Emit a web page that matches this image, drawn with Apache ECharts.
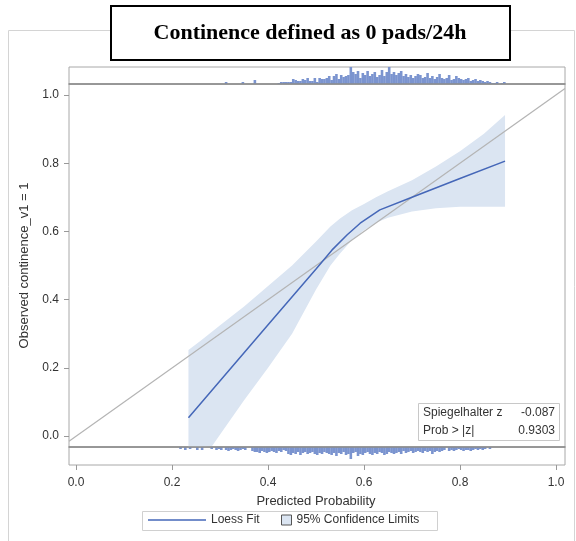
<!DOCTYPE html>
<html>
<head>
<meta charset="utf-8">
<script src="https://cdn.jsdelivr.net/npm/echarts@6/dist/echarts.min.js"></script>
<style>
  html, body { margin: 0; padding: 0; background: #fff; }
  #main { width: 576px; height: 541px; }
</style>
</head>
<body>
<div id="main"></div>
<script>
// 校准曲线 calibration plot
var myChart = echarts.init(document.getElementById('main'));

// loess fit
var loessX = [0.234, 0.3, 0.4, 0.5, 0.533, 0.565, 0.592, 0.633, 0.7, 0.8, 0.894];
var loessY = [0.054, 0.162, 0.326, 0.49, 0.545, 0.59, 0.624, 0.663, 0.7, 0.755, 0.806];

// 95% confidence band
var bandX = [0.234, 0.26, 0.283, 0.3, 0.35, 0.4, 0.45, 0.5, 0.53, 0.55, 0.575, 0.6, 0.625, 0.65, 0.7, 0.75, 0.8, 0.85, 0.894];
var bandLower = [-0.13, -0.08, -0.03, 0.005, 0.105, 0.2, 0.3, 0.43, 0.5, 0.535, 0.575, 0.603, 0.625, 0.64, 0.658, 0.668, 0.672, 0.672, 0.672];
var bandUpper = [0.252, 0.28, 0.306, 0.325, 0.38, 0.44, 0.5, 0.57, 0.614, 0.638, 0.662, 0.68, 0.7, 0.718, 0.75, 0.79, 0.835, 0.886, 0.941];

// reference diagonal (perfect calibration)
var diagX = [-0.015, 1.019];

// histogram of predicted probabilities, outcome = 1 (top) and outcome = 0 (bottom)
var binWidth = 0.005;
var topStart = 0.30;
var topCounts = [
    0, 0, 2, 0, 0, 0, 0, 0, 0, 2,
    0, 0, 0, 0, 4, 0, 0, 0, 0, 0,
    0, 0, 0, 0, 1, 2, 2, 2, 2, 2,
    5, 4, 3, 3, 5, 4, 6, 3, 3, 6,
    2, 6, 5, 5, 6, 8, 4, 8, 10, 5,
    9, 7, 8, 9, 17, 12, 10, 13, 6, 11,
    9, 13, 8, 10, 12, 7, 9, 14, 8, 12,
    17, 10, 12, 9, 11, 13, 8, 10, 7, 9,
    6, 8, 10, 9, 6, 7, 11, 6, 8, 5,
    7, 10, 6, 5, 6, 9, 4, 5, 8, 6,
    5, 4, 5, 6, 3, 4, 5, 3, 4, 3,
    2, 3, 2, 1, 1, 2, 0, 1, 2, 0
];
var bottomStart = 0.215;
var bottomCounts = [
    2, 0, 3, 0, 2, 0, 0, 3, 0, 3,
    0, 0, 0, 2, 0, 3, 2, 3, 0, 3,
    4, 3, 2, 3, 4, 3, 2, 3, 0, 0,
    4, 5, 5, 6, 4, 5, 6, 5, 4, 5,
    6, 4, 5, 3, 4, 7, 8, 6, 7, 5,
    8, 6, 5, 7, 6, 5, 7, 8, 6, 7,
    5, 6, 7, 8, 6, 9, 6, 7, 5, 8,
    7, 12, 6, 5, 9, 7, 8, 6, 5, 7,
    8, 6, 7, 5, 6, 8, 7, 5, 6, 7,
    6, 5, 7, 4, 6, 5, 4, 6, 5, 4,
    5, 6, 4, 5, 4, 7, 5, 4, 5, 4,
    3, 0, 4, 3, 4, 3, 2, 3, 4, 3,
    3, 4, 3, 2, 3, 2, 3, 2, 0, 2
];

var tickLabels = ['0.0', '0.2', '0.4', '0.6', '0.8', '1.0'];

var statNames = ['Spiegelhalter z', 'Prob > |z|'];
var statValues = ['-0.087', '0.9303'];

function pairs(xs, ys) {
    return xs.map(function (x, i) { return [x, ys[i]]; });
}
function histData(start, counts) {
    return counts.map(function (c, i) { return [start + binWidth * (i + 0.5), c]; });
}

var FONT = '"Liberation Sans", Arial, sans-serif';
var lineColor = '#4567b8';
var bandColor = '#dbe5f2';
var barColor = '#7b94cf';
var frameColor = '#a8a8a8';

var XMIN = -0.015, XMAX = 1.019;

// 置信带多边形 (上界正向 + 下界反向)
function renderBand(params, api) {
    if (params.dataIndex !== 0) return;
    var cs = params.coordSys;
    var bottom = cs.y + cs.height;
    var pts = [];
    for (var i = 0; i < bandX.length; i++) {
        pts.push(api.coord([bandX[i], bandUpper[i]]));
    }
    for (var j = bandX.length - 1; j >= 0; j--) {
        var p = api.coord([bandX[j], bandLower[j]]);
        p[1] = Math.min(p[1], bottom);
        pts.push(p);
    }
    return {
        type: 'polygon',
        shape: { points: pts },
        style: { fill: bandColor }
    };
}

option = {
    animation: false,
    textStyle: { fontFamily: FONT },
    grid: [
        { left: 69, top: 84, width: 496, height: 363, show: true, borderColor: frameColor, borderWidth: 1 }, // 主图
        { left: 69, top: 67, width: 496, height: 17, show: true, borderColor: frameColor, borderWidth: 1 },  // 上直方图
        { left: 69, top: 447, width: 496, height: 18, show: true, borderColor: frameColor, borderWidth: 1 }, // 下直方图
        { left: 76, top: 95, width: 480, height: 341, show: false }                                          // 刻度
    ],
    xAxis: [
        { gridIndex: 0, type: 'value', min: XMIN, max: XMAX, show: false },
        { gridIndex: 1, type: 'value', min: XMIN, max: XMAX, position: 'bottom', z: 5,
          axisLine: { show: true, onZero: false, lineStyle: { color: '#8c8c8c', width: 1.5 } },
          axisTick: { show: false }, axisLabel: { show: false }, splitLine: { show: false } },
        { gridIndex: 2, type: 'value', min: XMIN, max: XMAX, position: 'top', z: 5,
          axisLine: { show: true, onZero: false, lineStyle: { color: '#8c8c8c', width: 1.5 } },
          axisTick: { show: false }, axisLabel: { show: false }, splitLine: { show: false } },
        { gridIndex: 3, type: 'value', min: 0, max: 1, interval: 0.2, offset: 29,
          name: 'Predicted Probability', nameLocation: 'middle', nameGap: 30,
          nameTextStyle: { fontSize: 13, color: '#333', fontFamily: FONT },
          axisLine: { show: true, onZero: false, lineStyle: { color: 'rgba(0,0,0,0)' } },
          axisTick: { show: true, length: 5, lineStyle: { color: '#999' } },
          axisLabel: { fontSize: 12, color: '#333', margin: 12, fontFamily: FONT,
                       formatter: function (v) { return tickLabels[Math.round(v / 0.2)]; } },
          splitLine: { show: false } }
    ],
    yAxis: [
        { gridIndex: 0, type: 'value', min: -0.032, max: 1.032, show: false },
        { gridIndex: 1, type: 'value', min: 0, max: 17, show: false },
        { gridIndex: 2, type: 'value', min: 0, max: 18, inverse: true, show: false },
        { gridIndex: 3, type: 'value', min: 0, max: 1, interval: 0.2, offset: 7,
          name: 'Observed continence_v1 = 1', nameLocation: 'middle', nameGap: 37,
          nameTextStyle: { fontSize: 13, color: '#333', fontFamily: FONT },
          axisLine: { show: true, onZero: false, lineStyle: { color: 'rgba(0,0,0,0)' } },
          axisTick: { show: true, length: 5, lineStyle: { color: '#999' } },
          axisLabel: { fontSize: 12, color: '#333', margin: 10, fontFamily: FONT,
                       formatter: function (v) { return tickLabels[Math.round(v / 0.2)]; } },
          splitLine: { show: false } }
    ],
    legend: [
        { data: [{ name: 'Loess Fit', icon: 'rect', itemStyle: { color: lineColor } }],
          left: 148, top: 514, itemWidth: 58, itemHeight: 1.5, padding: 0,
          textStyle: { fontSize: 12, color: '#333', fontFamily: FONT } },
        { data: [{ name: '95% Confidence Limits', icon: 'rect',
                   itemStyle: { color: bandColor, borderColor: '#555', borderWidth: 1 } }],
          left: 281, top: 514, itemWidth: 10, itemHeight: 10, itemGap: 6, padding: 0,
          textStyle: { fontSize: 12, color: '#333', fontFamily: FONT } }
    ],
    graphic: {
        elements: [
            // 外框
            { type: 'rect', z: -10, shape: { x: 8.5, y: 30.5, width: 566, height: 540 },
              style: { fill: 'none', stroke: '#d4d4d4', lineWidth: 1 } },
            // 标题
            { type: 'rect', z: 10, shape: { x: 111, y: 6, width: 399, height: 54 },
              style: { fill: '#fff', stroke: '#000', lineWidth: 2 } },
            { type: 'text', z: 11, style: { text: 'Continence defined as 0 pads/24h', x: 310, y: 33,
              textAlign: 'center', textVerticalAlign: 'middle', fill: '#000',
              font: 'bold 22px "Liberation Serif", "Times New Roman", serif' } },
            // 统计框
            { type: 'rect', z: 10, shape: { x: 418.5, y: 403.5, width: 141, height: 37 },
              style: { fill: '#fff', stroke: '#c8c8c8', lineWidth: 1 } },
            { type: 'text', z: 11, style: { text: statNames[0], x: 423, y: 413, textVerticalAlign: 'middle',
              fill: '#333', font: '12px ' + FONT } },
            { type: 'text', z: 11, style: { text: statValues[0], x: 555, y: 413, textAlign: 'right',
              textVerticalAlign: 'middle', fill: '#333', font: '12px ' + FONT } },
            { type: 'text', z: 11, style: { text: statNames[1], x: 423, y: 431, textVerticalAlign: 'middle',
              fill: '#333', font: '12px ' + FONT } },
            { type: 'text', z: 11, style: { text: statValues[1], x: 555, y: 431, textAlign: 'right',
              textVerticalAlign: 'middle', fill: '#333', font: '12px ' + FONT } },
            // 图例框
            { type: 'rect', z: -1, shape: { x: 142.5, y: 511.5, width: 295, height: 19 },
              style: { fill: '#fff', stroke: '#d0d0d0', lineWidth: 1 } }
        ]
    },
    series: [
        {
            name: '95% Confidence Limits', type: 'custom', xAxisIndex: 0, yAxisIndex: 0,
            renderItem: renderBand, silent: true, z: 1,
            itemStyle: { color: bandColor },
            data: pairs(bandX, bandUpper)
        },
        {
            name: 'diag', type: 'line', xAxisIndex: 0, yAxisIndex: 0, symbol: 'none', silent: true,
            lineStyle: { color: '#b4b4b4', width: 1.2 }, z: 2,
            data: pairs(diagX, diagX)
        },
        {
            name: 'Loess Fit', type: 'line', xAxisIndex: 0, yAxisIndex: 0, symbol: 'none',
            lineStyle: { color: lineColor, width: 1.5 }, itemStyle: { color: lineColor }, z: 3,
            data: pairs(loessX, loessY)
        },
        {
            name: 'top', type: 'bar', xAxisIndex: 1, yAxisIndex: 1, barWidth: 2.6,
            itemStyle: { color: barColor }, silent: true,
            data: histData(topStart, topCounts)
        },
        {
            name: 'bottom', type: 'bar', xAxisIndex: 2, yAxisIndex: 2, barWidth: 2.6,
            itemStyle: { color: barColor }, silent: true,
            data: histData(bottomStart, bottomCounts)
        }
    ]
};

myChart.setOption(option);
</script>
</body>
</html>
